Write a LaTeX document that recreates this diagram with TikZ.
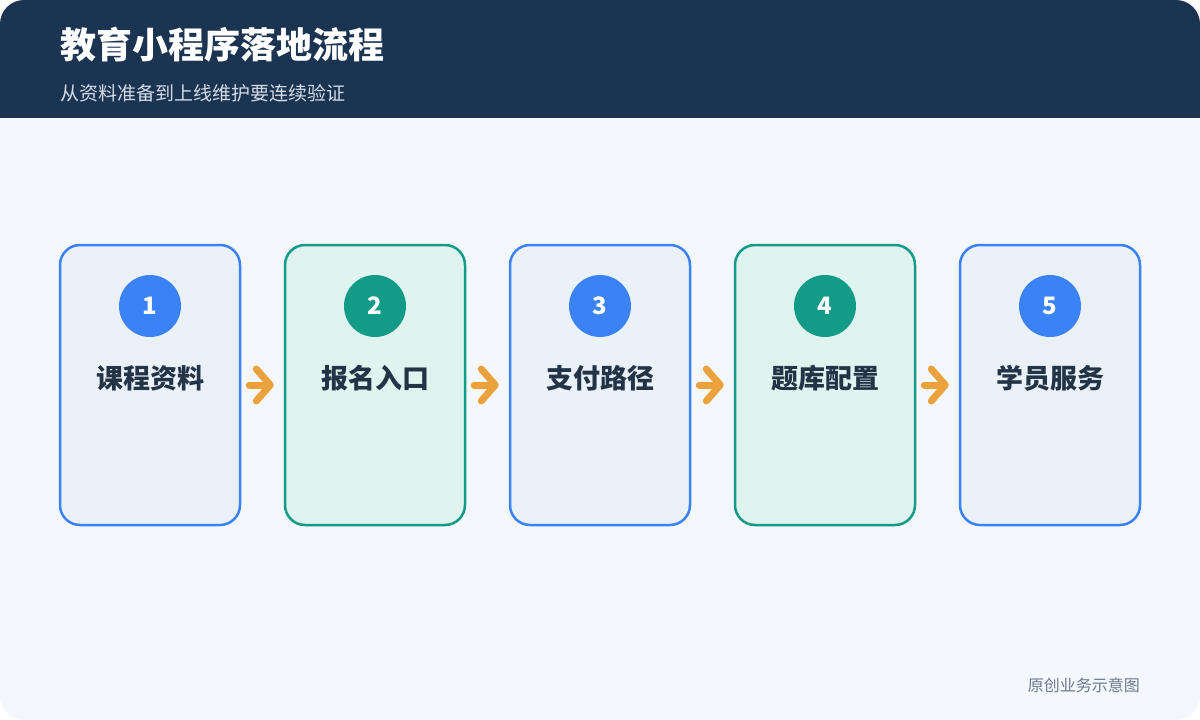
\documentclass[tikz,border=0pt]{standalone}
\usepackage{fontspec}
\setmainfont{Noto Sans CJK SC}
\usetikzlibrary{arrows.meta}
\definecolor{headbg}{HTML}{1B3452}
\definecolor{pagebg}{HTML}{F4F8FD}
\definecolor{stepblue}{HTML}{3B82F6}
\definecolor{fillblue}{HTML}{EAF1F9}
\definecolor{stepteal}{HTML}{129C88}
\definecolor{fillteal}{HTML}{DFF3EF}
\definecolor{flowarrow}{HTML}{EBA13C}
\definecolor{labeltext}{HTML}{243447}
\definecolor{subtext}{HTML}{D3DCE6}
\definecolor{foottext}{HTML}{6B7A8F}
\tikzset{
    stagebox/.style={draw=step#1, fill=fill#1, line width=2.5pt, rounded corners=20pt,
        minimum width=180pt, minimum height=280pt, inner sep=0pt},
    stagenum/.style={circle, fill=step#1, minimum size=62pt, inner sep=0pt,
        text=white, font=\bfseries\fontsize{24}{28}\selectfont},
    stagelabel/.style={text=labeltext, font=\bfseries\fontsize{27}{32}\selectfont},
    flow/.style={draw=flowarrow, line width=7pt, line cap=round,
        -{Straight Barb[length=14pt, width=32pt, round]},
        shorten <=8pt, shorten >=10pt}
}
\begin{document}
\begin{tikzpicture}[x=1pt, y=-1pt]
    \useasboundingbox (0,0) rectangle (1200,720);
    \fill[white] (0,0) rectangle (1200,720);
    %% page and header band
    \begin{scope}
        \clip[rounded corners=24pt] (0,0) rectangle (1200,720);
        \fill[pagebg] (0,0) rectangle (1200,720);
        \fill[headbg] (0,0) rectangle (1200,118);
    \end{scope}
    \node[anchor=west, text=white, inner sep=0pt, font=\bfseries\fontsize{36}{42}\selectfont] (title) at (60,45) {教育小程序落地流程};
    \node[anchor=west, text=subtext, inner sep=0pt, font=\fontsize{19}{23}\selectfont] (subtitle) at (60,93) {从资料准备到上线维护要连续验证};
    %% stages
    \foreach \i/\lbl/\kind in {1/课程资料/blue, 2/报名入口/teal, 3/支付路径/blue, 4/题库配置/teal, 5/学员服务/blue} {
        \node[stagebox=\kind] (b\i) at (150+225*\i-225,385) {};
        \node[stagenum=\kind] (n\i) at (150+225*\i-225,306) {\i};
        \node[stagelabel] (t\i) at (150+225*\i-225,378) {\lbl};
    }
    %% arrows between stages
    \foreach \i/\j in {1/2, 2/3, 3/4, 4/5}
        \draw[flow] (b\i.east) -- (b\j.west);
    \node[anchor=east, text=foottext, inner sep=0pt, font=\fontsize{16}{19}\selectfont] (footer) at (1140,685) {原创业务示意图};
\end{tikzpicture}
\end{document}
